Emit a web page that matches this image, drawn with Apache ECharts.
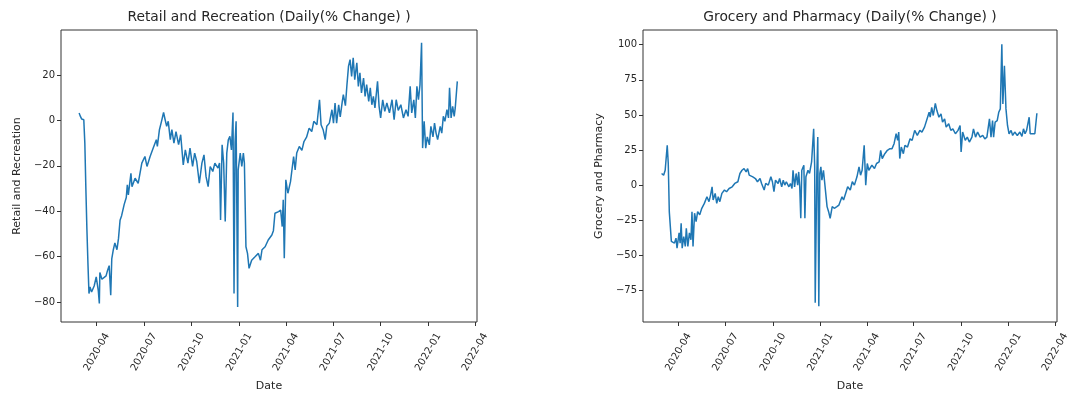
<!DOCTYPE html>
<html><head><meta charset="utf-8">
<script src="https://cdn.jsdelivr.net/npm/echarts@6/dist/echarts.min.js"></script>
<style>html,body{margin:0;padding:0;background:#fff}#c{width:1068px;height:394px}</style>
</head><body><div id="c"></div>
<script>
// ---- data ----
const retailSeries = [
['2020-02-27',3.3],['2020-02-29',2],['2020-03-03',0.6],['2020-03-07',0.3],['2020-03-09',-10],['2020-03-11',-30],['2020-03-13',-48],['2020-03-15',-63],['2020-03-17',-76.3],['2020-03-19',-73.4],['2020-03-22',-75.6],['2020-03-27',-73],['2020-03-31',-69],['2020-04-04',-75],['2020-04-06',-80.7],['2020-04-07',-67],['2020-04-11',-70],['2020-04-14',-69.5],['2020-04-19',-68.5],['2020-04-22',-66],['2020-04-25',-64],['2020-04-28',-77],['2020-04-30',-61],['2020-05-03',-57],['2020-05-06',-54],['2020-05-10',-57],['2020-05-13',-52],['2020-05-16',-44],['2020-05-19',-42],['2020-05-24',-37],['2020-05-28',-34],['2020-05-30',-28.4],['2020-06-01',-32.8],['2020-06-06',-23.3],['2020-06-08',-29.2],['2020-06-14',-25.5],['2020-06-20',-27.7],['2020-06-27',-18.8],['2020-07-03',-15.9],['2020-07-07',-20.3],['2020-07-13',-15.9],['2020-07-19',-12.2],['2020-07-25',-8.5],['2020-07-27',-11.5],['2020-07-31',-4.1],['2020-08-04',-0.4],['2020-08-08',3.5],['2020-08-11',0.3],['2020-08-14',-2.6],['2020-08-17',-0.4],['2020-08-21',-8.5],['2020-08-24',-4.1],['2020-08-28',-10],['2020-09-01',-4.9],['2020-09-06',-10.7],['2020-09-10',-6.3],['2020-09-15',-19.6],['2020-09-19',-13],['2020-09-24',-18.8],['2020-09-28',-12.2],['2020-10-03',-20.3],['2020-10-07',-14.4],['2020-10-11',-18.1],['2020-10-16',-27.7],['2020-10-21',-18.8],['2020-10-25',-15.2],['2020-10-29',-24.8],['2020-11-02',-29.2],['2020-11-06',-20.3],['2020-11-11',-22.5],['2020-11-15',-18.8],['2020-11-21',-21],['2020-11-24',-18.8],['2020-11-26',-43.9],['2020-11-29',-10.7],['2020-12-02',-18.8],['2020-12-05',-44.6],['2020-12-08',-14.4],['2020-12-11',-8.5],['2020-12-14',-7],['2020-12-17',-13],['2020-12-20',3.5],['2020-12-22',-76.3],['2020-12-24',-9.6],['2020-12-26',-0.4],['2020-12-29',-82.2],['2020-12-30',-21.8],['2021-01-03',-14.4],['2021-01-06',-20.3],['2021-01-09',-14.4],['2021-01-11',-18.8],['2021-01-14',-55.7],['2021-01-17',-58.6],['2021-01-20',-65.2],['2021-01-25',-61.6],['2021-02-01',-60],['2021-02-07',-58.6],['2021-02-11',-61.6],['2021-02-14',-57],['2021-02-20',-55.7],['2021-02-26',-52.7],['2021-03-05',-50.5],['2021-03-08',-48.6],['2021-03-11',-40.9],['2021-03-18',-40.2],['2021-03-22',-39.5],['2021-03-25',-46.8],['2021-03-27',-35],['2021-03-29',-60.8],['2021-04-01',-26.2],['2021-04-05',-32.1],['2021-04-10',-27],['2021-04-16',-15.9],['2021-04-19',-21.8],['2021-04-22',-14.4],['2021-04-27',-11.5],['2021-05-02',-13.2],['2021-05-06',-9.3],['2021-05-11',-7.4],['2021-05-16',-3.4],['2021-05-21',-4.9],['2021-05-25',-0.4],['2021-05-31',-1.9],['2021-06-05',9.1],['2021-06-08',-1.9],['2021-06-12',-4.1],['2021-06-16',-8.5],['2021-06-19',-2.6],['2021-06-24',-1.2],['2021-06-29',4.7],['2021-07-02',-1.2],['2021-07-05',7.7],['2021-07-08',-1.2],['2021-07-12',6.9],['2021-07-15',1.6],['2021-07-19',8.4],['2021-07-21',11.4],['2021-07-25',6.5],['2021-07-28',15.8],['2021-07-31',23.9],['2021-08-03',26.8],['2021-08-06',19.4],['2021-08-09',27.6],['2021-08-12',18],['2021-08-16',25.4],['2021-08-19',15],['2021-08-22',21],['2021-08-25',12.1],['2021-08-29',18.7],['2021-09-01',10.6],['2021-09-04',15.8],['2021-09-08',8.4],['2021-09-11',14.4],['2021-09-14',6.9],['2021-09-17',10.6],['2021-09-20',5.5],['2021-09-25',17.2],['2021-09-28',6.2],['2021-10-01',1.1],['2021-10-05',9.1],['2021-10-09',4],['2021-10-13',7.7],['2021-10-18',3.3],['2021-10-23',9.1],['2021-10-27',0.3],['2021-10-31',9.1],['2021-11-04',4.4],['2021-11-09',6.9],['2021-11-14',1.1],['2021-11-19',4.7],['2021-11-23',1.8],['2021-11-27',15],['2021-11-30',3.3],['2021-12-04',9.1],['2021-12-07',1.1],['2021-12-10',15],['2021-12-13',9.1],['2021-12-16',15.8],['2021-12-19',34.2],['2021-12-21',-12.2],['2021-12-24',-0.4],['2021-12-27',-12.2],['2021-12-30',-7.3],['2022-01-03',-10.8],['2022-01-06',-2.6],['2022-01-10',-7.3],['2022-01-13',-1.2],['2022-01-16',-5.6],['2022-01-19',-8.5],['2022-01-24',-2.6],['2022-01-27',-5.6],['2022-01-30',1.8],['2022-02-02',-0.4],['2022-02-06',4.7],['2022-02-09',1.1],['2022-02-11',14.4],['2022-02-14',1.1],['2022-02-17',6.2],['2022-02-20',1.8],['2022-02-22',5.5],['2022-02-26',17.2]
];
const grocerySeries = [
['2020-02-28',8.3],['2020-03-03',7.1],['2020-03-06',10.6],['2020-03-10',28.3],['2020-03-12',15.4],['2020-03-14',-18.9],['2020-03-16',-20],['2020-03-18',-40.1],['2020-03-24',-41.3],['2020-03-27',-37.8],['2020-03-29',-44.9],['2020-04-02',-34],['2020-04-04',-41.3],['2020-04-06',-27.1],['2020-04-08',-44.9],['2020-04-11',-36.6],['2020-04-14',-43.7],['2020-04-16',-30.7],['2020-04-19',-43.7],['2020-04-22',-34],['2020-04-25',-38.9],['2020-04-27',-18.9],['2020-04-29',-43.7],['2020-05-02',-20],['2020-05-05',-26],['2020-05-08',-18.9],['2020-05-12',-21.2],['2020-05-16',-16.5],['2020-05-21',-13],['2020-05-26',-8.3],['2020-05-30',-11.8],['2020-06-02',-7.1],['2020-06-05',-1.2],['2020-06-07',-10.6],['2020-06-11',-5.9],['2020-06-14',-13],['2020-06-17',-8.3],['2020-06-20',-11.8],['2020-06-24',-5.9],['2020-06-29',-3.5],['2020-07-03',-4.7],['2020-07-08',-2.4],['2020-07-14',-1.2],['2020-07-19',1.2],['2020-07-25',2.4],['2020-07-29',8.3],['2020-08-02',10.6],['2020-08-06',11.8],['2020-08-10',9.4],['2020-08-13',11.8],['2020-08-16',7.1],['2020-08-23',5.9],['2020-08-28',4.7],['2020-09-01',2.4],['2020-09-06',4.7],['2020-09-09',1.2],['2020-09-14',-3.5],['2020-09-17',1.2],['2020-09-22',0],['2020-09-27',5.9],['2020-09-30',2.4],['2020-10-03',-4.7],['2020-10-06',3.5],['2020-10-11',1.2],['2020-10-14',4.7],['2020-10-18',-1.2],['2020-10-21',3.5],['2020-10-24',0],['2020-10-27',2.4],['2020-11-01',-1.2],['2020-11-04',1.2],['2020-11-07',-2.4],['2020-11-09',10.6],['2020-11-12',-1.2],['2020-11-15',8.3],['2020-11-18',0],['2020-11-20',9.4],['2020-11-22',-1.2],['2020-11-24',-23.6],['2020-11-26',10.6],['2020-11-30',14.2],['2020-12-02',-23.6],['2020-12-04',5.9],['2020-12-08',10.6],['2020-12-11',8.3],['2020-12-15',16.5],['2020-12-19',40.1],['2020-12-21',13],['2020-12-22',-83.8],['2020-12-25',5.9],['2020-12-27',34.2],['2020-12-29',-86.2],['2020-12-31',8.3],['2021-01-02',13],['2021-01-04',3.5],['2021-01-07',10.6],['2021-01-10',9.4],['2021-01-14',-15.3],['2021-01-17',-18.9],['2021-01-20',-23.6],['2021-01-24',-15.3],['2021-01-28',-16.5],['2021-02-02',-15.3],['2021-02-06',-14.2],['2021-02-12',-8.3],['2021-02-15',-10.6],['2021-02-19',-5.9],['2021-02-23',-1.2],['2021-02-28',-3.5],['2021-03-04',2.4],['2021-03-08',0],['2021-03-13',5.9],['2021-03-17',13],['2021-03-20',7.1],['2021-03-23',10.6],['2021-03-27',28.3],['2021-03-30',0],['2021-04-02',15.4],['2021-04-05',10.6],['2021-04-11',14.2],['2021-04-16',11.8],['2021-04-20',15.4],['2021-04-25',16.5],['2021-04-28',24.8],['2021-05-01',18.9],['2021-05-06',22.4],['2021-05-11',24.8],['2021-05-16',26],['2021-05-20',26],['2021-05-24',29.5],['2021-05-28',36.6],['2021-05-31',31.9],['2021-06-02',37.8],['2021-06-04',18.9],['2021-06-07',27.1],['2021-06-11',22.4],['2021-06-14',28.3],['2021-06-19',27.1],['2021-06-24',33],['2021-06-28',31.9],['2021-07-03',39],['2021-07-08',35.4],['2021-07-13',39],['2021-07-17',37.8],['2021-07-22',41.3],['2021-07-28',48.4],['2021-07-31',51.9],['2021-08-02',48.4],['2021-08-05',55.4],['2021-08-08',49.6],['2021-08-12',58.3],['2021-08-15',53.1],['2021-08-19',48.4],['2021-08-23',50.8],['2021-08-26',44.9],['2021-08-30',47.2],['2021-09-02',41.3],['2021-09-07',43.7],['2021-09-11',39],['2021-09-15',40.1],['2021-09-20',36.6],['2021-09-25',39],['2021-09-29',42.5],['2021-10-01',23.6],['2021-10-04',37.8],['2021-10-09',31.9],['2021-10-13',34.2],['2021-10-17',30.7],['2021-10-22',34.2],['2021-10-25',40.1],['2021-10-29',34.2],['2021-11-02',37.8],['2021-11-07',34.2],['2021-11-12',35.4],['2021-11-16',33],['2021-11-20',34.2],['2021-11-25',47.2],['2021-11-28',34.2],['2021-12-01',46],['2021-12-03',34.2],['2021-12-06',44.9],['2021-12-10',46],['2021-12-13',51.9],['2021-12-16',54.3],['2021-12-19',100.4],['2021-12-21',57.8],['2021-12-24',85],['2021-12-27',54.3],['2021-12-30',42.5],['2022-01-02',36.6],['2022-01-06',39],['2022-01-09',35.4],['2022-01-13',37.8],['2022-01-18',35.4],['2022-01-23',37.8],['2022-01-27',34.7],['2022-01-30',40.1],['2022-02-02',36.6],['2022-02-05',39],['2022-02-10',48.4],['2022-02-12',36.6],['2022-02-16',36.6],['2022-02-21',36.6],['2022-02-25',51.2]
];
const xTickDates = ['2020-04-01','2020-07-01','2020-10-01','2021-01-01','2021-04-01','2021-07-01','2021-10-01','2022-01-01','2022-04-01'];
const retailTicks = [-80, -60, -40, -20, 0, 20];
const groceryTicks = [-75, -50, -25, 0, 25, 50, 75, 100];
const titles = ['Retail and Recreation (Daily(% Change) )', 'Grocery and Pharmacy (Daily(% Change) )'];
const yNames = ['Retail and Recreation', 'Grocery and Pharmacy'];
const xName = 'Date';

// ---- helpers ----
const ts = s => { const p = s.split('-').map(Number); return new Date(p[0], p[1] - 1, p[2]).getTime(); };
const fmtDate = v => { const d = new Date(v); return d.getFullYear() + '-' + String(d.getMonth() + 1).padStart(2, '0'); };
const fmtNum = v => v < 0 ? '\u2212' + Math.abs(v) : String(v);
const FONT = 'DejaVu Sans';
const INK = '#262626';
const xTicks = xTickDates.map(ts);
const xMin = ts('2020-01-23'), xMax = ts('2022-04-05');

function xAxis(i) {
  return {
    type: 'value', gridIndex: i, min: xMin, max: xMax, position: 'bottom',
    axisLine: { show: false, onZero: false },
    splitLine: { show: false },
    axisTick: { show: true, customValues: xTicks, length: 4, lineStyle: { color: '#333', width: 1 } },
    axisLabel: { customValues: xTicks, formatter: fmtDate, rotate: 60, align: 'center', verticalAlign: 'middle',
      margin: 30, fontSize: 10, fontFamily: FONT, color: INK },
    name: xName, nameLocation: 'middle', nameGap: 59,
    nameTextStyle: { fontSize: 11, fontFamily: FONT, color: INK }
  };
}
function yAxis(i, min, max, ticks) {
  return {
    type: 'value', gridIndex: i, min: min, max: max, position: 'left',
    axisLine: { show: false, onZero: false },
    splitLine: { show: false },
    axisTick: { show: true, customValues: ticks, length: 4, lineStyle: { color: '#333', width: 1 } },
    axisLabel: { customValues: ticks, formatter: fmtNum, margin: 6, fontSize: 10, fontFamily: FONT, color: INK },
    name: yNames[i], nameLocation: 'middle', nameGap: 38,
    nameTextStyle: { fontSize: 11, fontFamily: FONT, color: INK }
  };
}

const chart = echarts.init(document.getElementById('c'), null, { renderer: 'canvas' });
chart.setOption({
  animation: false,
  backgroundColor: '#fff',
  title: [
    { text: titles[0], left: 269, top: 10, textAlign: 'center', padding: 0,
      textStyle: { fontSize: 13.8, fontWeight: 'normal', fontFamily: FONT, color: INK } },
    { text: titles[1], left: 850, top: 10, textAlign: 'center', padding: 0,
      textStyle: { fontSize: 13.8, fontWeight: 'normal', fontFamily: FONT, color: INK } }
  ],
  grid: [
    { left: 61, top: 30, width: 416, height: 292, outerBoundsMode: 'none', containLabel: false,
      show: true, borderColor: '#333', borderWidth: 1, backgroundColor: 'transparent' },
    { left: 643, top: 30, width: 414, height: 292, outerBoundsMode: 'none', containLabel: false,
      show: true, borderColor: '#333', borderWidth: 1, backgroundColor: 'transparent' }
  ],
  xAxis: [xAxis(0), xAxis(1)],
  yAxis: [yAxis(0, -88.85, 39.85, retailTicks), yAxis(1, -97.5, 110.5, groceryTicks)],
  series: [
    { type: 'line', xAxisIndex: 0, yAxisIndex: 0, showSymbol: false, symbol: 'none',
      data: retailSeries.map(d => [ts(d[0]), d[1]]),
      lineStyle: { color: '#1f77b4', width: 1.5 }, itemStyle: { color: '#1f77b4' } },
    { type: 'line', xAxisIndex: 1, yAxisIndex: 1, showSymbol: false, symbol: 'none',
      data: grocerySeries.map(d => [ts(d[0]), d[1]]),
      lineStyle: { color: '#1f77b4', width: 1.5 }, itemStyle: { color: '#1f77b4' } }
  ]
});
</script></body></html>
